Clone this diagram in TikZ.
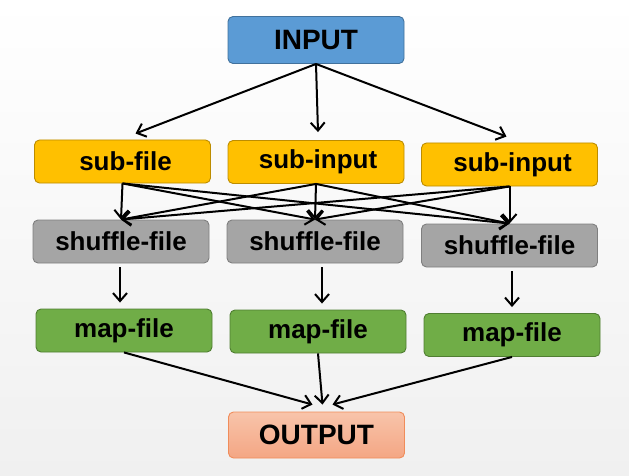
\documentclass[tikz,border=0pt]{standalone}
\usepackage{fontspec}
\setmainfont{Liberation Sans}
\usetikzlibrary{arrows.meta}

\definecolor{inblue}{RGB}{91,155,213}
\definecolor{inblueline}{RGB}{65,113,156}
\definecolor{subyel}{RGB}{255,192,0}
\definecolor{subyelline}{RGB}{188,140,0}
\definecolor{shgray}{RGB}{165,165,165}
\definecolor{shgrayline}{RGB}{127,127,127}
\definecolor{mapgreen}{RGB}{112,173,71}
\definecolor{mapgreenline}{RGB}{80,126,50}
\definecolor{outtop}{RGB}{248,196,170}
\definecolor{outbot}{RGB}{244,166,132}
\definecolor{outline}{RGB}{240,140,90}
\definecolor{bgbot}{RGB}{240,240,240}

\tikzset{
  box/.style={rounded corners=5pt, line width=0.9pt, minimum width=176pt,
    minimum height=43pt, inner sep=0pt, text=black,
    font=\fontsize{26}{30}\selectfont\bfseries},
  inbox/.style={box, fill=inblue, draw=inblueline, minimum height=47pt,
    font=\fontsize{28}{32}\selectfont\bfseries},
  subbox/.style={box, fill=subyel, draw=subyelline},
  shbox/.style={box, fill=shgray, draw=shgrayline},
  mapbox/.style={box, fill=mapgreen, draw=mapgreenline},
  outbox/.style={box, top color=outtop, bottom color=outbot, draw=outline,
    minimum height=46pt, font=\fontsize{28}{32}\selectfont\bfseries},
  link/.style={line width=2pt, -{Straight Barb[length=8pt,width=14pt]}}
}

\begin{document}
\begin{tikzpicture}[x=1pt,y=-1pt]

\useasboundingbox (0,0) rectangle (629,476);
\shade[top color=white, bottom color=bgbot] (0,0) rectangle (629,476); % background

\node[inbox] (in) at (316,40) {INPUT};

\node[subbox] (subA) at (122.5,161.5) {\hspace{6pt}sub-file};
\node[subbox] (subB) at (316,162) {\hspace{4pt}sub-input};
\node[subbox] (subC) at (509.5,164.5) {\hspace{6pt}sub-input};

\node[shbox] (shA) at (121,241.5) {shuffle-file};
\node[shbox] (shB) at (315,241.5) {shuffle-file};
\node[shbox] (shC) at (509.5,245.5) {shuffle-file};

\node[mapbox] (mapA) at (124,330.5) {map-file};
\node[mapbox] (mapB) at (318,331.5) {map-file};
\node[mapbox] (mapC) at (512,335) {map-file};

\node[outbox] (out) at (316.5,435) {OUTPUT};

% input to sub
\draw[link] (in.south) -- ([xshift=13pt,yshift=6pt]subA.north);
\draw[link] (in.south) -- ([xshift=2pt,yshift=8pt]subB.north);
\draw[link] (in.south) -- ([xshift=-3pt,yshift=6pt]subC.north);

% every sub to every shuffle
\foreach \s in {subA,subB,subC}
  \foreach \t in {shA,shB,shC}
    \draw[link] (\s.south) -- (\t.north);

% shuffle to map
\draw[link, shorten <=4pt, shorten >=6pt] ([xshift=-1pt]shA.south) -- ([xshift=-1pt]shA.south |- mapA.north);
\draw[link, shorten <=4pt, shorten >=6pt] ([xshift=7pt]shB.south) -- ([xshift=7pt]shB.south |- mapB.north);
\draw[link, shorten <=4pt, shorten >=6pt] ([xshift=2.5pt]shC.south) -- ([xshift=2.5pt]shC.south |- mapC.north);

% map to output
\draw[link] (mapA.south) -- ([xshift=-4pt,yshift=7pt]out.north);
\draw[link] (mapB.south) -- ([xshift=6pt,yshift=7pt]out.north);
\draw[link] (mapC.south) -- ([xshift=16pt,yshift=7pt]out.north);

\end{tikzpicture}
\end{document}
